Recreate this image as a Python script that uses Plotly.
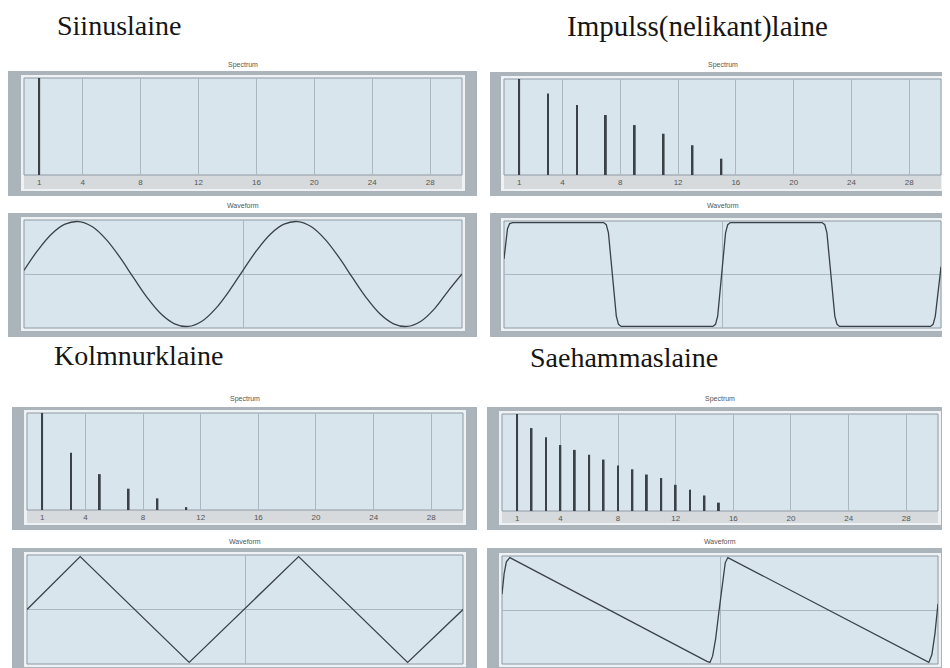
import plotly.graph_objects as go

# ---------------- data ----------------
tick_vals = [1, 4, 8, 12, 16, 20, 24, 28]
tick_text = ["1", "4", "8", "12", "16", "20", "24", "28"]

sine_harm = [1]
sine_amp = [1.0]

square_harm = [1, 3, 5, 7, 9, 11, 13, 15]
square_amp = [1.0, 0.85, 0.73, 0.625, 0.52, 0.43, 0.31, 0.17]

tri_harm = [1, 3, 5, 7, 9, 11]
tri_amp = [1.0, 0.59, 0.37, 0.22, 0.12, 0.03]

saw_harm = [1, 2, 3, 4, 5, 6, 7, 8, 9, 10, 11, 12, 13, 14, 15]
saw_amp = [1.0, 0.855, 0.76, 0.68, 0.63, 0.58, 0.53, 0.47, 0.43, 0.376,
           0.34, 0.27, 0.22, 0.16, 0.086]

sine_x = list(range(33))
sine_y = [0.07, 0.45, 0.76, 0.95, 1.0, 0.9, 0.66, 0.32, -0.07, -0.45, -0.76,
          -0.95, -1.0, -0.9, -0.66, -0.32, 0.07, 0.45, 0.76, 0.95, 1.0, 0.9,
          0.66, 0.32, -0.07, -0.45, -0.76, -0.95, -1.0, -0.9, -0.66, -0.32, 0.0]

square_x = [0, 0.004, 0.008, 0.013, 0.02,
            0.228, 0.234, 0.239, 0.243, 0.248, 0.253, 0.257, 0.262, 0.268,
            0.478, 0.484, 0.489, 0.493, 0.498, 0.503, 0.507, 0.512, 0.518,
            0.728, 0.734, 0.739, 0.743, 0.748, 0.753, 0.757, 0.762, 0.768,
            0.976, 0.982, 0.987, 0.992, 0.996, 1.0]
square_y = [0.3, 0.65, 0.88, 0.98, 1.0,
            1.0, 0.96, 0.8, 0.45, 0.0, -0.45, -0.8, -0.96, -1.0,
            -1.0, -0.96, -0.8, -0.45, 0.0, 0.45, 0.8, 0.96, 1.0,
            1.0, 0.96, 0.8, 0.45, 0.0, -0.45, -0.8, -0.96, -1.0,
            -1.0, -0.96, -0.8, -0.45, -0.1, 0.15]

tri_x = [0, 0.122, 0.372, 0.623, 0.873, 1.0]
tri_y = [0.0, 1.0, -1.0, 1.0, -1.0, 0.0]

saw_x = [0, 0.005, 0.01, 0.018, 0.47, 0.477, 0.483, 0.49, 0.498, 0.506,
         0.512, 0.518, 0.972, 0.979, 0.986, 0.993, 1.0]
saw_y = [0.3, 0.7, 0.92, 1.0, -0.98, -1.0, -0.88, -0.55, 0.0, 0.55,
         0.9, 1.0, -0.98, -1.0, -0.85, -0.45, 0.12]

titles = ["Siinuslaine", "Impulss(nelikant)laine", "Kolmnurklaine", "Saehammaslaine"]

# ---------------- layout helpers ----------------
# the page body has an 8px margin, so the figure is drawn 8px in from the
# top-left corner of the window; positions below are window pixels.
OFF = 8
W, H = 950 - OFF, 668 - OFF


def fx(p):
    return (p - OFF) / W


def fy(p):
    return 1 - (p - OFF) / H


FRAME = "#aab4ba"
RIM = "#eef2f5"
PLOTBG = "#d9e5ed"
BORDER = "#8e9aa3"
STRIP = "#d7dadc"
GRID = "#a9b8c2"
INK = "#3a4147"

spec_panels = [
    dict(harm=sine_harm, amp=sine_amp, box=(24, 462, 78, 175), frame=(8, 477, 71, 196), strip=189, label_y=65),
    dict(harm=square_harm, amp=square_amp, box=(504, 941, 79, 175), frame=(490, 950, 72, 196), strip=189, label_y=65),
    dict(harm=tri_harm, amp=tri_amp, box=(27, 463, 413, 510), frame=(12, 477, 407, 530), strip=523, label_y=399),
    dict(harm=saw_harm, amp=saw_amp, box=(502, 938, 414, 511), frame=(487, 950, 407, 530), strip=523, label_y=399),
]
wave_panels = [
    dict(x=sine_x, y=sine_y, xr=[0, 32], shape="spline", box=(24, 462, 220, 328), frame=(8, 477, 213, 337), label_y=205),
    dict(x=square_x, y=square_y, xr=[0, 1], shape="linear", box=(504, 941, 221, 328), frame=(490, 950, 213, 337), label_y=205),
    dict(x=tri_x, y=tri_y, xr=[0, 1], shape="linear", box=(27, 463, 555, 664), frame=(12, 477, 548, 668), label_y=541),
    dict(x=saw_x, y=saw_y, xr=[0, 1], shape="linear", box=(502, 938, 556, 664), frame=(487, 950, 548, 668), label_y=541),
]

fig = go.Figure()
layout = dict(
    width=W, height=H, margin=dict(l=0, r=0, t=0, b=0),
    paper_bgcolor="white", plot_bgcolor="rgba(0,0,0,0)",
    showlegend=False, hovermode=False,
)
shapes = []
annotations = []


def rect(x0, x1, y0, y1, fill, line=None, lw=0):
    shapes.append(dict(type="rect", xref="paper", yref="paper", layer="below",
                       x0=fx(x0), x1=fx(x1), y0=fy(y1), y1=fy(y0),
                       fillcolor=fill, line=dict(color=line or fill, width=lw)))


def small_label(text, xc, yc):
    annotations.append(dict(text=text, x=fx(xc), y=fy(yc), xref="paper", yref="paper",
                            showarrow=False, xanchor="center", yanchor="middle",
                            font=dict(family="Liberation Sans", size=7, color="#555")))


idx = 0
for i in range(4):
    for kind in ("spec", "wave"):
        idx += 1
        sfx = "" if idx == 1 else str(idx)
        xa, ya = "x" + sfx, "y" + sfx
        if kind == "spec":
            p = spec_panels[i]
            x0, x1, y0, y1 = p["box"]
            f = p["frame"]
            rect(f[0], f[1], f[2], f[3], FRAME)
            rect(x0 - 3, x1 + 3, y0 - 3, p["strip"] + 2, RIM)
            rect(x0, x1, y1, p["strip"], STRIP)
            rect(x0, x1, y0, y1, PLOTBG, BORDER, 1)
            small_label("Spectrum", (x0 + x1) / 2, p["label_y"])
            fig.add_trace(go.Bar(x=p["harm"], y=p["amp"], width=0.13,
                                 marker=dict(color=INK, line=dict(width=0)),
                                 xaxis=xa, yaxis=ya))
            layout["xaxis" + sfx] = dict(
                domain=[fx(x0), fx(x1)], anchor=ya, range=[-0.05, 30.2],
                tickmode="array", tickvals=tick_vals, ticktext=tick_text,
                showgrid=True, gridcolor=GRID, gridwidth=1, zeroline=False,
                showline=False, ticks="", ticklabelstandoff=1,
                tickfont=dict(family="Liberation Sans", size=8, color="#555"),
                fixedrange=True)
            layout["yaxis" + sfx] = dict(
                domain=[fy(y1), fy(y0)], anchor=xa, range=[0, 1.0],
                showgrid=False, showticklabels=False, zeroline=False,
                showline=False, ticks="", fixedrange=True)
        else:
            p = wave_panels[i]
            x0, x1, y0, y1 = p["box"]
            f = p["frame"]
            rect(f[0], f[1], f[2], f[3], FRAME)
            rect(x0 - 3, x1 + 3, y0 - 3, y1 + 3, RIM)
            rect(x0, x1, y0, y1, PLOTBG, BORDER, 1)
            small_label("Waveform", (x0 + x1) / 2, p["label_y"])
            fig.add_trace(go.Scatter(x=p["x"], y=p["y"], mode="lines",
                                     line=dict(color=INK, width=1.3, shape=p["shape"]),
                                     xaxis=xa, yaxis=ya))
            mid = (p["xr"][0] + p["xr"][1]) / 2
            layout["xaxis" + sfx] = dict(
                domain=[fx(x0), fx(x1)], anchor=ya, range=p["xr"],
                tickmode="array", tickvals=[mid], showticklabels=False,
                showgrid=True, gridcolor=GRID, gridwidth=1, zeroline=False,
                showline=False, ticks="", fixedrange=True)
            layout["yaxis" + sfx] = dict(
                domain=[fy(y1), fy(y0)], anchor=xa, range=[-1.03, 1.03],
                tickmode="array", tickvals=[0], showticklabels=False,
                showgrid=True, gridcolor=GRID, gridwidth=1, zeroline=False,
                showline=False, ticks="", fixedrange=True)

# big titles (top ones anchored to the top edge so they are not clipped)
title_specs = [
    dict(x=55, y=OFF, anchor="top", size=28),
    dict(x=565, y=OFF, anchor="top", size=29),
    dict(x=52, y=356, anchor="middle", size=28),
    dict(x=528, y=357, anchor="middle", size=28),
]
for t, s in zip(titles, title_specs):
    annotations.append(dict(text=t, x=fx(s["x"]), y=fy(s["y"]), xref="paper", yref="paper",
                            showarrow=False, xanchor="left", yanchor=s["anchor"],
                            font=dict(family="Liberation Serif", size=s["size"], color="#151515")))

layout["shapes"] = shapes
layout["annotations"] = annotations
fig.update_layout(**layout)
fig.write_html("out.html")
